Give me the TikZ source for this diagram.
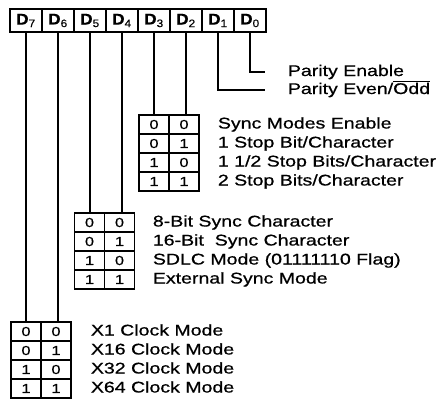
\documentclass[tikz,border=0pt]{standalone}
\usepackage{fontspec}
\setmainfont{Liberation Sans}
\newfontfamily\lblfont[FakeStretch=1.26, FakeBold=0.7]{Liberation Sans}
\newfontfamily\bitfont[FakeStretch=1.1, FakeBold=0.5]{Liberation Sans}
\usetikzlibrary{positioning}

\begin{document}
\begin{tikzpicture}[x=1pt, y=-1pt, line width=1.8pt]
\tikzstyle{bit} = [rectangle, draw, minimum width=32pt, minimum height=23pt, inner sep=0pt, outer sep=0pt, font=\bitfont\fontsize{15.5}{15.5}\selectfont\bfseries];
\tikzstyle{cell} = [rectangle, draw, minimum width=30pt, minimum height=19pt, inner sep=0pt, outer sep=0pt, font=\lblfont\fontsize{13}{13}\selectfont];
\tikzstyle{desc} = [anchor=west, inner sep=0pt, text height=11pt, text depth=3pt, font=\lblfont\fontsize{15.5}{15.5}\selectfont];

\useasboundingbox (0,0) rectangle (444,400);

% register bits
\node (d7) [bit] at (26,20.5) {D\textsubscript{\mdseries 7}};
\node (d6) [bit, right=0pt of d7] {D\textsubscript{\mdseries 6}};
\node (d5) [bit, right=0pt of d6] {D\textsubscript{\mdseries 5}};
\node (d4) [bit, right=0pt of d5] {D\textsubscript{\mdseries 4}};
\node (d3) [bit, right=0pt of d4] {D\textsubscript{\mdseries 3}};
\node (d2) [bit, right=0pt of d3] {D\textsubscript{\mdseries 2}};
\node (d1) [bit, right=0pt of d2] {D\textsubscript{\mdseries 1}};
\node (d0) [bit, right=0pt of d1] {D\textsubscript{\mdseries 0}};

% parity
\node (paren) [desc] at (287,72) {Parity Enable};
\node (parodd) [desc] at (287,90) {Parity Even/$\overline{\mbox{Odd}}$};

% stop bits
\foreach \a/\b/\t [count=\i] in {0/0/Sync Modes Enable, 0/1/1 Stop Bit\slash Character, 1/0/1 1\slash 2 Stop Bits\slash Character, 1/1/2 Stop Bits\slash Character} {
  \node (stpa\i) [cell] at (154,105.5+19*\i) {\a};
  \node (stpb\i) [cell, right=0pt of stpa\i] {\b};
  \node (stpt\i) [desc, right=18pt of stpb\i] {\t};
}

% sync character
\foreach \a/\b/\t [count=\i] in {0/0/8-Bit Sync Character, 0/1/16-Bit\ \ Sync Character, 1/0/SDLC Mode (01111110 Flag), 1/1/External Sync Mode} {
  \node (chra\i) [cell] at (89.5,203.5+19*\i) {\a};
  \node (chrb\i) [cell, right=0pt of chra\i] {\b};
  \node (chrt\i) [desc, right=17.5pt of chrb\i] {\t};
}

% clock modes
\foreach \a/\b/\t [count=\i] in {0/0/X1 Clock Mode, 0/1/X16 Clock Mode, 1/0/X32 Clock Mode, 1/1/X64 Clock Mode} {
  \node (clka\i) [cell] at (26,312.5+19*\i) {\a};
  \node (clkb\i) [cell, right=0pt of clka\i] {\b};
  \node (clkt\i) [desc, right=19pt of clkb\i] {\t};
}

\draw (d7.south) -- (d7.south |- clka1.north);
\draw (d6.south) -- (d6.south |- clkb1.north);
\draw (d5.south) -- (d5.south |- chra1.north);
\draw (d4.south) -- (d4.south |- chrb1.north);
\draw (d3.south) -- (d3.south |- stpa1.north);
\draw (d2.south) -- (d2.south |- stpb1.north);
\draw (d1.south) |- ([xshift=-22pt]parodd.west);
\draw (d0.south) |- ([xshift=-22pt]paren.west);
\end{tikzpicture}
\end{document}
